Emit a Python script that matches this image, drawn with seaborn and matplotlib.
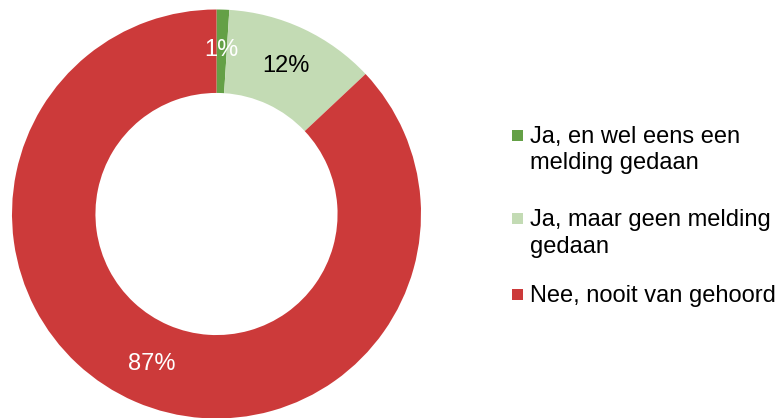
import matplotlib
matplotlib.use("Agg")
import matplotlib.pyplot as plt
import seaborn as sns

# data
labels = ["Ja, en wel eens een\nmelding gedaan",
          "Ja, maar geen melding\ngedaan",
          "Nee, nooit van gehoord"]
values = [1, 12, 87]
colors = ["#64a046", "#c3dbb4", "#cc3a3a"]
pct_text_colors = ["white", "black", "white"]

sns.set_theme(style="white")
plt.rcParams['font.family'] = ['Liberation Sans', 'DejaVu Sans']

W, H = 782, 418
fig = plt.figure(figsize=(W / 100, H / 100), dpi=100)

# donut axes: radius 1 -> ~204.5 px, centre at (216.5, 204) from bottom-left
r_px = 204.5
cx, cy = 216.5, 204
ax = fig.add_axes([(cx - r_px) / W, (cy - r_px) / H, 2 * r_px / W, 2 * r_px / H])

wedges, texts, autotexts = ax.pie(
    values, colors=colors, startangle=90, counterclock=False,
    autopct='%1.0f%%', pctdistance=0.8,
    wedgeprops=dict(width=0.408, linewidth=0),
    textprops=dict(fontsize=17))
for t, c in zip(autotexts, pct_text_colors):
    t.set_color(c)
for w in wedges:
    w.set_clip_on(False)
ax.set_xlim(-1, 1)
ax.set_ylim(-1, 1)
ax.set_aspect('equal')
ax.axis('off')

# legend drawn by hand so the markers line up with the first text line
baselines = [143, 226, 302]   # px from top, first line of each entry
line_gap = 26.5
for lab, col, base in zip(labels, colors, baselines):
    sq = 11
    fig.patches.append(plt.Rectangle(
        (512 / W, (H - base + 8 - sq / 2) / H), sq / W, sq / H,
        transform=fig.transFigure, facecolor=col, edgecolor='none'))
    for i, line in enumerate(lab.split("\n")):
        fig.text(530 / W, (H - base - i * line_gap) / H, line,
                 fontsize=17, color='black', va='baseline', ha='left')

fig.savefig("out.png", dpi=100)
